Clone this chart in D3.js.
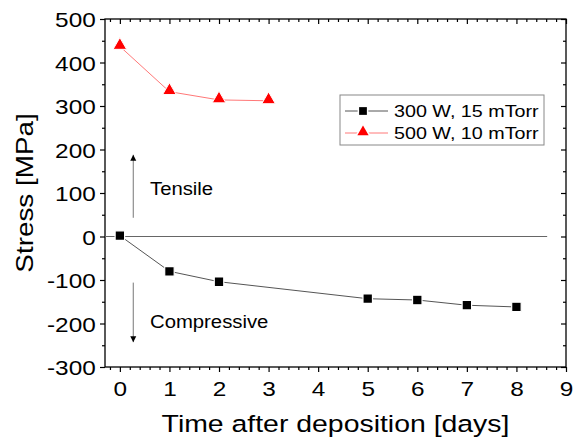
<!DOCTYPE html>
<html>
<head>
<meta charset="utf-8">
<script src="https://cdn.jsdelivr.net/npm/d3@7"></script>
<style>
  body { margin: 0; background: #fff; }
  text { font-family: "Liberation Sans", Arial, sans-serif; fill: #000; }
</style>
</head>
<body>
<div id="vis"></div>
<script>

// data
var days300 = [0, 1, 2, 5, 6, 7, 8];
var stress300 = [2, -80, -104, -143, -146, -158, -162];
var days500 = [0, 1, 2, 3];
var stress500 = [437, 333, 314, 312];
var seriesNames = ['300 W, 15 mTorr', '500 W, 10 mTorr'];
var xTicks = [0, 1, 2, 3, 4, 5, 6, 7, 8, 9];
var yTicks = [-300, -200, -100, 0, 100, 200, 300, 400, 500];

var width = 574, height = 448;
var plotL = 105, plotR = 566, plotT = 19, plotB = 367;
var sx = 1.16; // the original's lettering is a bit wider than Liberation Sans

var svg = d3.select('#vis').append('svg')
  .attr('width', width)
  .attr('height', height);

var x = d3.scaleLinear().domain([-0.3, 9]).range([plotL, plotR]);
var y = d3.scaleLinear().domain([-300, 500]).range([plotB, plotT]);

var xMinor = d3.range(-0.2, 9.01, 0.2).filter(function (d) { return Math.abs(d - Math.round(d)) > 0.01; });
var yMinor = d3.range(-250, 500, 100);

function styleAxis(g) {
  g.select('.domain').remove();
  g.selectAll('line').attr('stroke', '#000').attr('stroke-width', 1.2);
}

function label(x0, y0, txt, size, anchor, rot) {
  return svg.append('text')
    .attr('transform', 'translate(' + x0 + ',' + y0 + ')' + (rot ? ' rotate(' + rot + ')' : '') + ' scale(' + sx + ',1)')
    .attr('text-anchor', anchor || 'start')
    .attr('font-size', size)
    .text(txt);
}

// major + minor ticks, bottom (outward) and top (inward)
svg.append('g').attr('transform', 'translate(0,' + plotB + ')')
  .call(d3.axisBottom(x).tickValues(xMinor).tickSize(3).tickFormat(''))
  .call(styleAxis);
var xAx = svg.append('g').attr('transform', 'translate(0,' + plotB + ')')
  .call(d3.axisBottom(x).tickValues(xTicks).tickSize(5).tickPadding(9).tickFormat(function (d) { return String(d); }))
  .call(styleAxis);
xAx.selectAll('text').attr('font-size', 21).attr('transform', 'scale(' + sx + ',1)');

svg.append('g').attr('transform', 'translate(0,' + plotT + ')')
  .call(d3.axisBottom(x).tickValues(xMinor).tickSize(3).tickFormat(''))
  .call(styleAxis);
svg.append('g').attr('transform', 'translate(0,' + plotT + ')')
  .call(d3.axisBottom(x).tickValues(xTicks).tickSize(5).tickFormat(''))
  .call(styleAxis);

// left (outward) and right (inward)
svg.append('g').attr('transform', 'translate(' + plotL + ',0)')
  .call(d3.axisLeft(y).tickValues(yMinor).tickSize(3).tickFormat(''))
  .call(styleAxis);
var yAx = svg.append('g').attr('transform', 'translate(' + plotL + ',0)')
  .call(d3.axisLeft(y).tickValues(yTicks).tickSize(5).tickPadding(3).tickFormat(function (d) { return String(d); }))
  .call(styleAxis);
yAx.selectAll('text').attr('font-size', 21).attr('dy', '0.36em').attr('transform', 'scale(' + sx + ',1)');

svg.append('g').attr('transform', 'translate(' + plotR + ',0)')
  .call(d3.axisLeft(y).tickValues(yMinor).tickSize(3).tickFormat(''))
  .call(styleAxis);
svg.append('g').attr('transform', 'translate(' + plotR + ',0)')
  .call(d3.axisLeft(y).tickValues(yTicks).tickSize(5).tickFormat(''))
  .call(styleAxis);

// frame
svg.append('rect')
  .attr('x', plotL).attr('y', plotT)
  .attr('width', plotR - plotL).attr('height', plotB - plotT)
  .attr('fill', 'none').attr('stroke', '#000').attr('stroke-width', 1.3);

// zero line
svg.append('line')
  .attr('x1', x(-0.3)).attr('x2', x(8.62))
  .attr('y1', y(0)).attr('y2', y(0))
  .attr('stroke', '#666').attr('stroke-width', 1);

// arrows
svg.append('defs').append('marker')
  .attr('id', 'head')
  .attr('viewBox', '0 0 6 10')
  .attr('refX', 6).attr('refY', 5)
  .attr('markerWidth', 6).attr('markerHeight', 10)
  .attr('markerUnits', 'userSpaceOnUse')
  .attr('orient', 'auto')
  .append('path').attr('d', 'M0,2 L6,5 L0,8 Z').attr('fill', '#000');

svg.append('line')
  .attr('x1', x(0.27)).attr('x2', x(0.27))
  .attr('y1', y(43)).attr('y2', y(188))
  .attr('stroke', '#777').attr('stroke-width', 1)
  .attr('marker-end', 'url(#head)');
svg.append('line')
  .attr('x1', x(0.27)).attr('x2', x(0.27))
  .attr('y1', y(-106)).attr('y2', y(-243))
  .attr('stroke', '#777').attr('stroke-width', 1)
  .attr('marker-end', 'url(#head)');

label(150, 195, 'Tensile', 17.5);
label(150, 328, 'Compressive', 17.5);

// series
var line = d3.line().x(function (d) { return x(d[0]); }).y(function (d) { return y(d[1]); });
var pts300 = d3.zip(days300, stress300);
var pts500 = d3.zip(days500, stress500);

svg.append('path').datum(pts300).attr('d', line)
  .attr('fill', 'none').attr('stroke', '#555').attr('stroke-width', 1);
svg.append('path').datum(pts500).attr('d', line)
  .attr('fill', 'none').attr('stroke', '#ff7878').attr('stroke-width', 1);

var square = d3.symbol().type(d3.symbolSquare).size(90);
var tri = d3.symbol().type(d3.symbolTriangle).size(80);

svg.selectAll('.sq').data(pts300).enter().append('path')
  .attr('class', 'sq')
  .attr('d', square)
  .attr('transform', function (d) { return 'translate(' + x(d[0]) + ',' + y(d[1]) + ')'; })
  .attr('fill', '#000').attr('stroke', '#fff').attr('stroke-width', 1.2);
svg.selectAll('.tri').data(pts500).enter().append('path')
  .attr('class', 'tri')
  .attr('d', tri)
  .attr('transform', function (d) { return 'translate(' + x(d[0]) + ',' + (y(d[1]) - 1) + ')'; })
  .attr('fill', '#ff0000').attr('stroke', '#fff').attr('stroke-width', 1);

// legend
var lgX = 340, lgY = 95;
svg.append('rect').attr('x', lgX).attr('y', lgY).attr('width', 204).attr('height', 50)
  .attr('fill', '#fff').attr('stroke', '#888').attr('stroke-width', 1);
var legendStyle = [['#555', '#000', d3.symbolSquare, 60], ['#ff7878', '#ff0000', d3.symbolTriangle, 55]];
seriesNames.forEach(function (name, i) {
  var yy = lgY + 16 + i * 22;
  svg.append('line').attr('x1', lgX + 5).attr('x2', lgX + 48).attr('y1', yy).attr('y2', yy)
    .attr('stroke', legendStyle[i][0]).attr('stroke-width', 1);
  svg.append('path').attr('d', d3.symbol().type(legendStyle[i][2]).size(legendStyle[i][3])())
    .attr('transform', 'translate(' + (lgX + 23) + ',' + (yy - (i === 1 ? 1 : 0)) + ')')
    .attr('fill', legendStyle[i][1]).attr('stroke', '#fff').attr('stroke-width', 3).attr('paint-order', 'stroke');
  label(lgX + 54, yy + 6, name, 17);
});

// axis titles
label((plotL + plotR) / 2, 432, 'Time after deposition [days]', 24.5, 'middle');
label(33, (plotT + plotB) / 2, 'Stress [MPa]', 24, 'middle', -90);

</script>
</body>
</html>
